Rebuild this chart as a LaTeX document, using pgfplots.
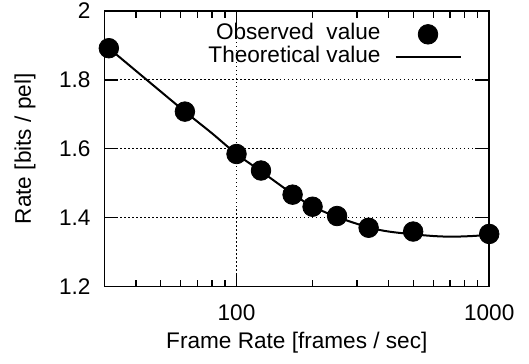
\documentclass[border=0pt]{standalone}
\usepackage{pgfplots}
\pgfplotsset{compat=1.18}
\usepackage{fontspec}
\setmainfont{Liberation Sans}
\pgfplotsset{
  legline/.style={legend image code/.code={\draw[##1] (0pt,0pt) -- (32.5pt,0pt);}},
  legdot/.style={legend image code/.code={\draw[##1] plot coordinates {(16.25pt,0pt)};}},
}
\begin{document}
\fontsize{11.3pt}{13pt}\selectfont
\begin{tikzpicture}
\begin{axis}[
  name=ax,
  scale only axis,
  width=192.5pt, height=137.9pt,
  xmode=log,
  xmin=30, xmax=1000,
  ymin=1.2, ymax=2,
  xtick={100,1000},
  xticklabels={100,1000},
  minor xtick={40,50,60,70,80,90,200,300,400,500,600,700,800,900},
  ytick={1.2,1.4,1.6,1.8,2},
  yticklabels={1.2,1.4,1.6,1.8,2},
  tick align=inside,
  major tick length=7pt,
  minor tick length=3.5pt,
  tick style={black, line width=0.6pt},
  axis line style={line width=0.75pt},
  grid=major,
  major grid style={black, line width=0.5pt, dash pattern=on 0.6pt off 1.4pt},
  /pgf/number format/assume math mode=true,
  xticklabel style={yshift=-5pt},
  yticklabel style={xshift=-3pt},
  tick label style={font=\fontsize{11.3pt}{13pt}\selectfont},
  label style={font=\fontsize{11.3pt}{13pt}\selectfont},
  xlabel={Frame Rate [frames / sec]},
  ylabel={Rate [bits / pel]},
  x label style={at={(axis description cs:0.5,-0.225)}, anchor=base},
  y label style={at={(axis description cs:-0.206,0.5)}, anchor=center},
  legend cell align=right,
  legend plot pos=right,
  reverse legend,
  legend style={draw=none, fill=none, at={(axis description cs:0.929,0.958)}, anchor=north east,
    inner sep=0pt, column sep=7pt,
    nodes={inner sep=0pt, text height=8.5pt, text depth=2.85pt},
    font=\fontsize{11.3pt}{13pt}\selectfont},
]
\addplot[black, line width=1pt, smooth, no marks, legline]
  coordinates {
  (31.25,1.892) (45,1.795) (62.5,1.708) (80,1.645) (100,1.585) (125,1.535)
  (166.7,1.469) (200,1.433) (250,1.402) (333.3,1.372) (400,1.360) (500,1.352)
  (600,1.347) (700,1.345) (800,1.346) (900,1.348) (1000,1.352)
  };
\addlegendentry{Theoretical value}
\addplot[only marks, mark=*, mark size=4.9pt, black, mark options={fill=black}, legdot]
  coordinates {
  (31.25,1.892) (62.5,1.708) (100,1.585) (125,1.537) (166.7,1.467)
  (200,1.432) (250,1.405) (333.3,1.371) (500,1.360) (1000,1.353)
  };
\addlegendentry{Observed\ \ value}
\end{axis}
\pgfresetboundingbox
\path (ax.south west) ++(-52.2pt,-38.2pt) coordinate (bbA);
\path (ax.north east) ++(19.9pt,5.5pt) coordinate (bbB);
\path (bbA) rectangle (bbB);
\end{tikzpicture}
\end{document}
